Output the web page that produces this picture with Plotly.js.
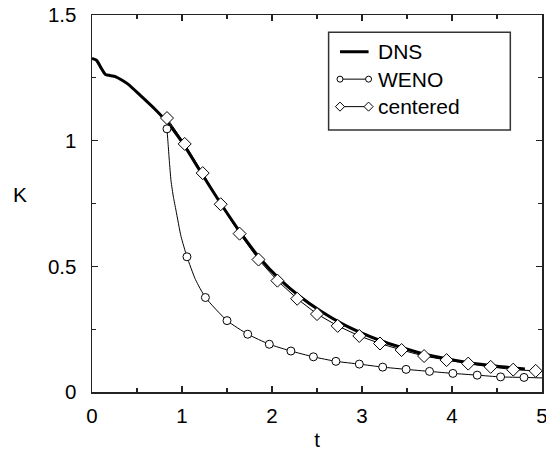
<!DOCTYPE html>
<html>
<head>
<meta charset="utf-8">
<script src="https://cdn.plot.ly/plotly-3.0.1.min.js"></script>
<style>html,body{margin:0;padding:0;background:#fff;}#chart{width:546px;height:451px;}</style>
</head>
<body>
<div id="chart"></div>
<script>
// DNS reference curve
const dnsT = [0, 0.05, 0.1, 0.15, 0.26, 0.4, 0.537, 0.7, 0.833, 1.0, 1.2, 1.43, 1.65, 1.87, 2.09, 2.31, 2.54, 2.76, 2.98, 3.2, 3.43, 3.68, 3.94, 4.17, 4.5, 4.81];
const dnsK = [1.327, 1.32, 1.29, 1.263, 1.255, 1.225, 1.18, 1.125, 1.074, 0.995, 0.88, 0.75, 0.634, 0.53, 0.447, 0.38, 0.322, 0.275, 0.237, 0.205, 0.178, 0.152, 0.132, 0.117, 0.102, 0.092];

// WENO: sampled points (with markers)
const wenoT = [0.833, 1.055, 1.26, 1.5, 1.73, 1.97, 2.21, 2.46, 2.71, 2.97, 3.23, 3.49, 3.75, 4.01, 4.28, 4.54, 4.8];
const wenoK = [1.047, 0.538, 0.376, 0.284, 0.23, 0.19, 0.163, 0.14, 0.122, 0.111, 0.099, 0.09, 0.082, 0.074, 0.067, 0.06, 0.058];
// WENO: additional points of the curve (no markers)
const wenoExtraT = [0.845, 0.859, 0.878, 0.905, 0.933, 0.989, 1.15, 5.0];
const wenoExtraK = [0.99, 0.921, 0.84, 0.775, 0.723, 0.619, 0.447, 0.056];

// centered scheme
const cenT = [0.833, 1.03, 1.23, 1.43, 1.64, 1.85, 2.06, 2.28, 2.5, 2.73, 2.97, 3.2, 3.44, 3.69, 3.94, 4.18, 4.43, 4.68, 4.93];
const cenK = [1.09, 0.987, 0.871, 0.747, 0.63, 0.527, 0.443, 0.371, 0.31, 0.263, 0.223, 0.193, 0.167, 0.143, 0.127, 0.113, 0.1, 0.089, 0.084];

const seriesNames = ["DNS", "WENO", "centered"];
const xTickVals = [0, 1, 2, 3, 4, 5];
const xTickText = ["0", "1", "2", "3", "4", "5"];
const yTickVals = [0, 0.5, 1, 1.5];
const yTickText = ["0", "0.5", "1", "1.5"];

// build WENO line from merged points
const wenoLine = wenoT.map((t, i) => [t, wenoK[i]]).concat(wenoExtraT.map((t, i) => [t, wenoExtraK[i]])).sort((a, b) => a[0] - b[0]);

const FONT = "Liberation Sans, Arial, Helvetica, sans-serif";
const INK = "#000";

const traces = [
  {x: dnsT, y: dnsK, mode: "lines", line: {color: INK, width: 3, shape: "spline", smoothing: 0.5}, showlegend: false, hoverinfo: "skip"},
  {x: cenT, y: cenK, mode: "lines+markers", line: {color: INK, width: 1},
   marker: {symbol: "diamond", size: 10, color: "#fff", line: {color: INK, width: 1}}, showlegend: false, cliponaxis: false},
  {x: wenoLine.map(p => p[0]), y: wenoLine.map(p => p[1]), mode: "lines", line: {color: INK, width: 1, shape: "spline", smoothing: 0.5}, showlegend: false},
  {x: wenoT, y: wenoK, mode: "markers", marker: {symbol: "circle", size: 8, color: "#fff", line: {color: INK, width: 1}}, showlegend: false, cliponaxis: false},
  // legend samples (on overlay axes)
  {x: [0, 1], y: [2, 2], xaxis: "x2", yaxis: "y2", mode: "lines", line: {color: INK, width: 3}, showlegend: false, cliponaxis: false},
  {x: [0, 1], y: [1, 1], xaxis: "x2", yaxis: "y2", mode: "lines+markers", line: {color: INK, width: 1},
   marker: {symbol: "circle", size: 6, color: "#fff", line: {color: INK, width: 1}}, showlegend: false, cliponaxis: false},
  {x: [0, 1], y: [0, 0], xaxis: "x2", yaxis: "y2", mode: "lines+markers", line: {color: INK, width: 1},
   marker: {symbol: "diamond", size: 7, color: "#fff", line: {color: INK, width: 1}}, showlegend: false, cliponaxis: false}
];

const axCommon = {
  showgrid: false, zeroline: false, showline: true, linecolor: "#222", linewidth: 1.5,
  mirror: "ticks", ticks: "inside", ticklen: 6, tickwidth: 1.5, tickcolor: "#222",
  ticklabeloverflow: "allow",
  tickfont: {family: FONT, size: 20.5, color: INK}
};

const legY = [0.9027, 0.8294, 0.7568];
const legX = 0.632;

const layout = {
  width: 546, height: 451,
  margin: {l: 92, r: 4, t: 15, b: 59},
  paper_bgcolor: "#fff", plot_bgcolor: "#fff",
  font: {family: FONT, color: INK},
  showlegend: false,
  xaxis: Object.assign({}, axCommon, {
    range: [0, 5], tickvals: xTickVals, ticktext: xTickText, ticklabelstandoff: 5,
    minor: {dtick: 0.5, tick0: 0, ticks: "inside", ticklen: 4, tickwidth: 1.2, tickcolor: "#222"},
    title: {text: "t", font: {family: FONT, size: 20.5, color: INK}, standoff: 8}
  }),
  yaxis: Object.assign({}, axCommon, {
    range: [0, 1.5], tickvals: yTickVals, ticktext: yTickText, ticklabelstandoff: 10,
    minor: {dtick: 0.25, tick0: 0, ticks: "inside", ticklen: 4, tickwidth: 1.2, tickcolor: "#222"}
  }),
  xaxis2: {domain: [0.5384, 0.6273], range: [-0.2, 1.2], visible: false, anchor: "y2", fixedrange: true},
  yaxis2: {domain: [0.7205, 0.9392], range: [-0.5, 2.5], visible: false, anchor: "x2", fixedrange: true},
  shapes: [
    {type: "rect", xref: "paper", yref: "paper", x0: 0.5258, x1: 0.9296, y0: 0.6952, y1: 0.9541,
     line: {color: "#333", width: 1.5}, fillcolor: "rgba(0,0,0,0)", layer: "below"}
  ],
  annotations: [
    {xref: "paper", yref: "paper", x: legX, y: legY[0], text: seriesNames[0], showarrow: false, xanchor: "left", yanchor: "middle", font: {family: FONT, size: 21, color: INK}},
    {xref: "paper", yref: "paper", x: legX, y: legY[1], text: seriesNames[1], showarrow: false, xanchor: "left", yanchor: "middle", font: {family: FONT, size: 21, color: INK}},
    {xref: "paper", yref: "paper", x: legX, y: legY[2], text: seriesNames[2], showarrow: false, xanchor: "left", yanchor: "middle", font: {family: FONT, size: 21, color: INK}},
    {xref: "paper", yref: "paper", x: -0.1593, y: 0.523, text: "K", showarrow: false, xanchor: "center", yanchor: "middle", font: {family: FONT, size: 21, color: INK}}
  ]
};

Plotly.newPlot("chart", traces, layout, {staticPlot: true, displayModeBar: false});
</script>
</body>
</html>
